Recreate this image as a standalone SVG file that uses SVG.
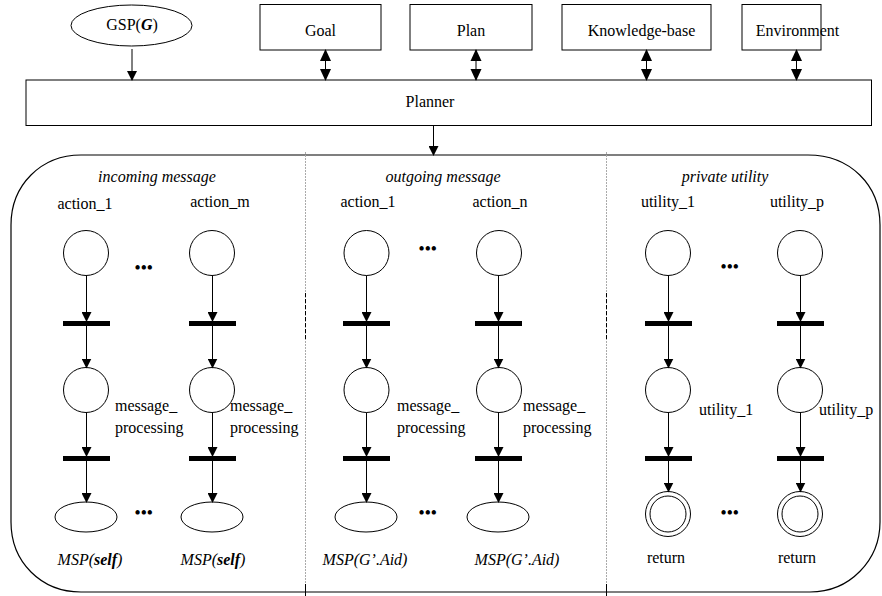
<svg xmlns="http://www.w3.org/2000/svg" width="882" height="596" viewBox="0 0 882 596" font-family="'Liberation Serif', 'DejaVu Serif', serif">
<style>
text{font-family:'Liberation Serif','DejaVu Serif',serif;font-size:16px;fill:#000}
.c{text-anchor:middle}
.i{font-style:italic}
.b{font-weight:bold}
.ln{stroke:#000;stroke-width:1;fill:none}
.box{fill:#fff;stroke:#000;stroke-width:1}
.pl{fill:#fff;stroke:#000;stroke-width:1}
.bar{fill:#000}
.dots{font-size:16px;letter-spacing:0.5px;text-anchor:middle}
</style>
<defs>
<marker id="ah" markerUnits="userSpaceOnUse" markerWidth="10" markerHeight="10" refX="9" refY="5" orient="auto-start-reverse" viewBox="0 0 10 10">
<path d="M0,0 L10,5 L0,10 z" fill="#000"/>
</marker>
<marker id="ah2" markerUnits="userSpaceOnUse" markerWidth="12" markerHeight="12" refX="11" refY="6" orient="auto-start-reverse" viewBox="0 0 12 12">
<path d="M0,0.5 L12,6 L0,11.5 z" fill="#000"/>
</marker>
</defs>
<rect width="882" height="596" fill="#fff"/>

<!-- container -->
<g id="container">
<path d="M81,155 H808 C850,155 880,185 880,225 V522 C880,560 850,592 810,592 H81 C41,592 11,562 11,522 V225 C11,185 41,155 81,155 Z" fill="none" stroke="#000" stroke-width="1.2"/>
<line x1="305.5" y1="152" x2="305.5" y2="596" stroke="#aaa" stroke-width="1" stroke-dasharray="2,1"/>
<line x1="606.5" y1="152" x2="606.5" y2="596" stroke="#aaa" stroke-width="1" stroke-dasharray="2,1"/>
<line x1="305.5" y1="293" x2="305.5" y2="340" stroke="#000" stroke-width="1" stroke-dasharray="4,2"/>
<line x1="606.5" y1="293" x2="606.5" y2="340" stroke="#000" stroke-width="1" stroke-dasharray="4,2"/>
<line x1="305.5" y1="584" x2="305.5" y2="596" stroke="#000" stroke-width="1"/>
<line x1="606.5" y1="584" x2="606.5" y2="596" stroke="#000" stroke-width="1"/>
<text class="c i" x="157" y="182">incoming message</text>
<text class="c i" x="443" y="182">outgoing message</text>
<text class="c i" x="725" y="182">private utility</text>
</g>

<!-- top nodes -->
<g id="gsp"><ellipse class="box" cx="131.5" cy="25.5" rx="60.5" ry="20.5"/><text class="c" x="132" y="30">GSP(<tspan class="b i">G</tspan>)</text></g>
<g id="goal"><rect class="box" x="260" y="4.5" width="121" height="45.5"/><text class="c" x="320.5" y="36">Goal</text></g>
<g id="plan"><rect class="box" x="410" y="4.5" width="122" height="45.5"/><text class="c" x="471" y="36">Plan</text></g>
<g id="kb"><rect class="box" x="562" y="4.5" width="149" height="45.5"/><text class="c" x="641.5" y="36">Knowledge-base</text></g>
<g id="env"><rect class="box" x="742" y="4.5" width="79" height="45.5"/><text class="c" x="797.5" y="36">Environment</text></g>
<g id="planner"><rect class="box" x="26" y="80" width="845.5" height="45.5"/><text class="c" x="430" y="107">Planner</text></g>

<!-- places and transitions -->
<g id="in1">
<text class="c" x="85" y="209">action_1</text>
<circle class="pl" cx="86" cy="253" r="22.5"/>
<rect class="bar" x="63" y="321" width="47" height="5"/>
<circle class="pl" cx="86" cy="390" r="22.5"/>
<text x="115" y="411">message_</text><text x="115" y="433">processing</text>
<rect class="bar" x="63" y="456" width="47" height="5"/>
<ellipse class="pl" cx="86" cy="517" rx="31" ry="15"/>
<text class="c i" x="90" y="565">MSP(<tspan class="b">self</tspan>)</text>
</g>
<g id="inm">
<text class="c" x="220" y="207">action_m</text>
<circle class="pl" cx="212" cy="253" r="22.5"/>
<rect class="bar" x="189" y="321" width="47" height="5"/>
<circle class="pl" cx="212" cy="390" r="22.5"/>
<text x="230" y="411">message_</text><text x="230" y="433">processing</text>
<rect class="bar" x="189" y="456" width="47" height="5"/>
<ellipse class="pl" cx="212" cy="517" rx="31" ry="15"/>
<text class="c i" x="213" y="565">MSP(<tspan class="b">self</tspan>)</text>
</g>
<g id="out1">
<text class="c" x="368" y="207">action_1</text>
<circle class="pl" cx="366.5" cy="253" r="22.5"/>
<rect class="bar" x="343" y="321" width="47" height="5"/>
<circle class="pl" cx="366.5" cy="390" r="22.5"/>
<text x="397" y="411">message_</text><text x="397" y="433">processing</text>
<rect class="bar" x="343" y="456" width="47" height="5"/>
<ellipse class="pl" cx="366" cy="517" rx="31" ry="15"/>
<text class="c i" x="365" y="565">MSP(G’.Aid)</text>
</g>
<g id="outn">
<text class="c" x="500" y="207">action_n</text>
<circle class="pl" cx="499" cy="253" r="22.5"/>
<rect class="bar" x="475" y="321" width="47" height="5"/>
<circle class="pl" cx="499" cy="390" r="22.5"/>
<text x="523" y="411">message_</text><text x="523" y="433">processing</text>
<rect class="bar" x="475" y="456" width="47" height="5"/>
<ellipse class="pl" cx="498" cy="517" rx="31" ry="15"/>
<text class="c i" x="517" y="565">MSP(G’.Aid)</text>
</g>
<g id="ut1">
<text class="c" x="668" y="207">utility_1</text>
<circle class="pl" cx="668" cy="253" r="22.5"/>
<rect class="bar" x="645" y="321" width="47" height="5"/>
<circle class="pl" cx="668" cy="390" r="22.5"/>
<text x="699" y="415">utility_1</text>
<rect class="bar" x="645" y="456" width="47" height="5"/>
<circle class="pl" cx="668" cy="514" r="22.5"/><circle class="pl" cx="668" cy="514" r="18"/>
<text class="c" x="666" y="563">return</text>
</g>
<g id="utp">
<text class="c" x="797" y="207">utility_p</text>
<circle class="pl" cx="800" cy="253" r="22.5"/>
<rect class="bar" x="777" y="321" width="47" height="5"/>
<circle class="pl" cx="800" cy="390" r="22.5"/>
<text x="819" y="415">utility_p</text>
<rect class="bar" x="777" y="456" width="47" height="5"/>
<circle class="pl" cx="800" cy="514" r="22.5"/><circle class="pl" cx="800" cy="514" r="18"/>
<text class="c" x="797" y="563">return</text>
</g>

<g id="ellipses">
<text class="dots b" x="144" y="273">•••</text>
<text class="dots b" x="428" y="254">•••</text>
<text class="dots b" x="730" y="272">•••</text>
<text class="dots b" x="144" y="518">•••</text>
<text class="dots b" x="428" y="518">•••</text>
<text class="dots b" x="730" y="518">•••</text>
</g>

<!-- connectors -->
<g id="connectors" class="ln">
<line x1="132" y1="49" x2="132" y2="80" marker-end="url(#ah)"/>
<line x1="325.5" y1="50" x2="325.5" y2="80" marker-start="url(#ah2)" marker-end="url(#ah2)"/>
<line x1="476" y1="50" x2="476" y2="80" marker-start="url(#ah2)" marker-end="url(#ah2)"/>
<line x1="646.5" y1="50" x2="646.5" y2="80" marker-start="url(#ah2)" marker-end="url(#ah2)"/>
<line x1="796.5" y1="50" x2="796.5" y2="80" marker-start="url(#ah2)" marker-end="url(#ah2)"/>
<line x1="433.5" y1="125.5" x2="433.5" y2="155" marker-end="url(#ah)"/>

<line x1="86.5" y1="275.5" x2="86.5" y2="321" marker-end="url(#ah)"/>
<line x1="86.5" y1="321" x2="86.5" y2="367.5" marker-end="url(#ah)"/>
<line x1="86.5" y1="412.5" x2="86.5" y2="456" marker-end="url(#ah)"/>
<line x1="86.5" y1="456" x2="86.5" y2="502" marker-end="url(#ah)"/>

<line x1="212.5" y1="275.5" x2="212.5" y2="321" marker-end="url(#ah)"/>
<line x1="212.5" y1="321" x2="212.5" y2="367.5" marker-end="url(#ah)"/>
<line x1="212.5" y1="412.5" x2="212.5" y2="456" marker-end="url(#ah)"/>
<line x1="212.5" y1="456" x2="212.5" y2="502" marker-end="url(#ah)"/>

<line x1="366.5" y1="275.5" x2="366.5" y2="321" marker-end="url(#ah)"/>
<line x1="366.5" y1="321" x2="366.5" y2="367.5" marker-end="url(#ah)"/>
<line x1="366.5" y1="412.5" x2="366.5" y2="456" marker-end="url(#ah)"/>
<line x1="366.5" y1="456" x2="366.5" y2="502" marker-end="url(#ah)"/>

<line x1="498.5" y1="275.5" x2="498.5" y2="321" marker-end="url(#ah)"/>
<line x1="498.5" y1="321" x2="498.5" y2="367.5" marker-end="url(#ah)"/>
<line x1="498.5" y1="412.5" x2="498.5" y2="456" marker-end="url(#ah)"/>
<line x1="498.5" y1="456" x2="498.5" y2="502" marker-end="url(#ah)"/>

<line x1="668.5" y1="275.5" x2="668.5" y2="321" marker-end="url(#ah)"/>
<line x1="668.5" y1="321" x2="668.5" y2="367.5" marker-end="url(#ah)"/>
<line x1="668.5" y1="412.5" x2="668.5" y2="456" marker-end="url(#ah)"/>
<line x1="668.5" y1="456" x2="668.5" y2="491.5" marker-end="url(#ah)"/>

<line x1="800.5" y1="275.5" x2="800.5" y2="321" marker-end="url(#ah)"/>
<line x1="800.5" y1="321" x2="800.5" y2="367.5" marker-end="url(#ah)"/>
<line x1="800.5" y1="412.5" x2="800.5" y2="456" marker-end="url(#ah)"/>
<line x1="800.5" y1="456" x2="800.5" y2="491.5" marker-end="url(#ah)"/>
</g>
</svg>
